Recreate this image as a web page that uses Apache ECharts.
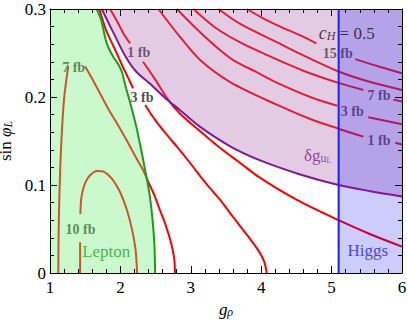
<!DOCTYPE html>
<html>
<head>
<meta charset="utf-8">
<script src="https://cdn.jsdelivr.net/npm/echarts@6/dist/echarts.min.js"></script>
<style>
  html, body { margin: 0; padding: 0; background: #fff; }
  #contour { width: 407px; height: 322px; }
</style>
</head>
<body>
<div id="contour"></div>
<script>
// points are [g_rho, sin phi_L]; 'a'/'b' pieces are split where a label sits on the line
const leptonEdge = [[1.663,0.300],[1.725,0.288],[1.806,0.261],[1.896,0.246],[1.971,0.237],[2.019,0.229],[2.081,0.210],[2.137,0.194],[2.209,0.172],[2.280,0.146],[2.351,0.117],[2.415,0.089],[2.457,0.060],[2.483,0.032],[2.493,0]]
const dguEdge = [[1.735,0.300],[1.882,0.276],[2.066,0.247],[2.223,0.229],[2.422,0.215],[2.635,0.199],[2.848,0.185],[3.133,0.166],[3.559,0.144],[3.986,0.128],[4.555,0.112],[5.099,0.100],[5.550,0.093],[6.0,0.087]]
const higgsX = 5.1

// upper right family
const c15a = [[3.797,0.300],[4.014,0.290],[4.270,0.280],[4.555,0.270],[4.782,0.261]]
const c15b = [[5.337,0.243],[5.692,0.234],[6.0,0.227]]
const c10 = [[3.393,0.300],[3.702,0.283],[4.228,0.262],[4.555,0.249],[5.099,0.229],[5.550,0.217],[6.0,0.208]]
const c7a = [[3.038,0.300],[3.346,0.279],[3.702,0.262],[4.157,0.245],[4.626,0.229],[5.099,0.216],[5.450,0.208]]
const c7b = [[5.877,0.197],[6.0,0.195]]
const c3a = [[2.801,0.300],[3.062,0.279],[3.346,0.258],[3.602,0.242],[3.915,0.229],[4.228,0.216],[4.697,0.200],[5.081,0.190]]
const c3b = [[5.521,0.177],[6.0,0.169]]
const c1a = [[2.540,0.300],[2.820,0.271],[3.133,0.242],[3.559,0.217],[4.228,0.191],[4.697,0.175],[5.099,0.164],[5.450,0.155]]
const c1b = [[5.905,0.148],[6.0,0.146]]

// left family
const l3a = [[1.701,0.300],[1.796,0.276],[1.900,0.258],[1.974,0.245],[2.042,0.233],[2.109,0.222],[2.180,0.210]]
const l3b = [[2.351,0.191],[2.493,0.174],[2.649,0.158],[2.820,0.142],[2.991,0.125],[3.204,0.103],[3.417,0.083],[3.616,0.062],[3.801,0.043],[3.957,0.026],[4.043,0.013],[4.078,0]]
const l1a = [[1.853,0.300],[1.953,0.286],[2.052,0.271],[2.137,0.261]]
const l1b = [[2.322,0.240],[2.493,0.220],[2.678,0.197],[2.848,0.181],[3.133,0.161],[3.417,0.142],[3.702,0.125],[3.986,0.108],[4.508,0.083],[5.099,0.060],[5.550,0.044],[6.0,0.030]]
const o7a = [[1.118,0],[1.122,0.040],[1.132,0.083],[1.156,0.140],[1.199,0.197],[1.260,0.235]]
const o7b = [[1.498,0.235],[1.597,0.221],[1.711,0.204],[1.839,0.185],[1.967,0.168],[2.095,0.150],[2.223,0.131],[2.322,0.117],[2.393,0.104],[2.479,0.089],[2.564,0.071],[2.649,0.053],[2.720,0.034],[2.763,0.017],[2.777,0]]
const o10a = [[1.427,0],[1.427,0.035]]
const o10b = [[1.431,0.067],[1.448,0.087],[1.498,0.102],[1.569,0.111],[1.668,0.116],[1.768,0.115],[1.882,0.107],[1.995,0.092],[2.095,0.071],[2.166,0.049],[2.216,0.026],[2.237,0]]

// contour labels
const fbText = ['7 fb', '10 fb', '1 fb', '3 fb', '15 fb', '7 fb', '3 fb', '1 fb']
const fbX = [1.166, 1.213, 2.09, 2.137, 4.868, 5.503, 5.123, 5.503]
const fbY = [0.234, 0.050, 0.251, 0.200, 0.250, 0.202, 0.184, 0.151]

// region labels
const regionText = ['Lepton', 'Higgs', '{m|δg}{s|u}{ss|L}', '{i|c}{si|H}{m| = 0.5}']
const regionX = [1.45, 5.218, 4.6, 4.81]
const regionY = [0.024, 0.026, 0.134, 0.273]
const regionColor = ['#1fa51f', '#2020dd', '#7a1a8c', '#111']

const serif = '"Liberation Serif", "DejaVu Serif", serif'

const chart = echarts.init(document.getElementById('contour'), null, { renderer: 'svg' })

function redLine(pts) {
  return {
    type: 'line',
    data: pts,
    smooth: 0.3,
    symbol: 'none',
    z: 2,
    silent: true,
    lineStyle: { color: '#ff0000', width: 2 }
  }
}

function axisBase(min, max, interval) {
  return {
    type: 'value',
    min: min,
    max: max,
    interval: interval,
    z: 10,
    axisLine: { show: true, onZero: false, lineStyle: { color: '#000', width: 1 } },
    axisTick: { show: true, inside: true, length: 7, lineStyle: { color: '#000' } },
    minorTick: { show: true, splitNumber: 5, length: 4, lineStyle: { color: '#000' } },
    splitLine: { show: false },
    minorSplitLine: { show: false }
  }
}

const redParts = [c15a, c15b, c10, c7a, c7b, c3a, c3b, c1a, c1b, l3a, l3b, l1a, l1b, o7a, o7b, o10a, o10b]

const series = redParts.map(redLine)

// labels under the shaded regions
series.push({
  type: 'scatter',
  z: 2,
  silent: true,
  symbolSize: 1,
  itemStyle: { color: 'rgba(0,0,0,0)' },
  data: fbText.map((t, i) => ({ value: [fbX[i], fbY[i]], label: { formatter: t } })),
  label: {
    show: true,
    position: 'right',
    distance: 0,
    fontFamily: serif,
    fontWeight: 'bold',
    fontSize: 14,
    color: '#1e1e1e'
  }
})

// shaded regions, drawn over the contours so they tint them
series.push({
  type: 'line',
  z: 3,
  silent: true,
  symbol: 'none',
  smooth: 0.3,
  data: [[1, 0.3]].concat(leptonEdge),
  lineStyle: { width: 0 },
  areaStyle: { color: 'rgba(110,240,120,0.37)', origin: 'start', opacity: 1 }
})
series.push({
  type: 'line',
  z: 3,
  silent: true,
  symbol: 'none',
  smooth: 0.3,
  data: dguEdge,
  lineStyle: { width: 0 },
  areaStyle: { color: 'rgba(170,94,170,0.32)', origin: 'end', opacity: 1 }
})
series.push({
  type: 'line',
  z: 3,
  silent: true,
  symbol: 'none',
  data: [[higgsX, 0.3], [6, 0.3]],
  lineStyle: { width: 0 },
  areaStyle: { color: 'rgba(0,0,255,0.2)', origin: 'start', opacity: 1 }
})

// region edges
series.push({
  type: 'line', z: 4, silent: true, symbol: 'none', smooth: 0.3,
  data: leptonEdge,
  lineStyle: { color: '#1a9e1a', width: 2 }
})
series.push({
  type: 'line', z: 4, silent: true, symbol: 'none', smooth: 0.3,
  data: dguEdge,
  lineStyle: { color: '#80189a', width: 2 }
})
series.push({
  type: 'line', z: 4, silent: true, symbol: 'none',
  data: [[higgsX, 0], [higgsX, 0.3]],
  lineStyle: { color: '#1f1fee', width: 2 }
})

// region names
series.push({
  type: 'scatter',
  z: 5,
  silent: true,
  symbolSize: 1,
  itemStyle: { color: 'rgba(0,0,0,0)' },
  data: regionText.map((t, i) => ({
    value: [regionX[i], regionY[i]],
    label: { formatter: t, color: regionColor[i] }
  })),
  label: {
    show: true,
    position: 'right',
    distance: 0,
    fontFamily: serif,
    fontSize: 17,
    rich: {
      m: { fontFamily: serif, fontSize: 17, lineHeight: 18, verticalAlign: 'bottom' },
      i: { fontFamily: serif, fontSize: 18, fontStyle: 'italic', lineHeight: 18, verticalAlign: 'bottom' },
      si: { fontFamily: serif, fontSize: 12, fontStyle: 'italic', lineHeight: 8, verticalAlign: 'bottom' },
      s: { fontFamily: serif, fontSize: 12, lineHeight: 8, verticalAlign: 'bottom' },
      ss: { fontFamily: serif, fontSize: 8, lineHeight: 2, verticalAlign: 'bottom' }
    }
  }
})

const xBottom = axisBase(1, 6, 1)
xBottom.position = 'bottom'
xBottom.axisLabel = { color: '#000', fontFamily: serif, fontSize: 17, margin: 6 }
xBottom.name = '{i|g}{s|ρ}'
xBottom.nameLocation = 'middle'
xBottom.nameGap = 26
xBottom.nameTextStyle = {
  color: '#000',
  rich: {
    i: { fontFamily: serif, fontSize: 17, fontStyle: 'italic', lineHeight: 18, verticalAlign: 'bottom' },
    s: { fontFamily: serif, fontSize: 12, fontStyle: 'italic', lineHeight: 8, verticalAlign: 'bottom' }
  }
}
const xTop = axisBase(1, 6, 1)
xTop.position = 'top'
xTop.axisLabel = { show: false }

const yLeft = axisBase(0, 0.3, 0.1)
yLeft.position = 'left'
yLeft.axisLabel = {
  color: '#000', fontFamily: serif, fontSize: 17, margin: 4,
  formatter: (v) => (v === 0 ? '0' : v.toFixed(1))
}
yLeft.name = '{m|sin }{i|φ}{s|L}'
yLeft.nameLocation = 'middle'
yLeft.nameGap = 23
yLeft.nameTextStyle = {
  color: '#000',
  rich: {
    m: { fontFamily: serif, fontSize: 17, lineHeight: 14, verticalAlign: 'bottom' },
    i: { fontFamily: serif, fontSize: 17, fontStyle: 'italic', lineHeight: 14, verticalAlign: 'bottom' },
    s: { fontFamily: serif, fontSize: 12, fontStyle: 'italic', lineHeight: 6, verticalAlign: 'bottom' }
  }
}
const yRight = axisBase(0, 0.3, 0.1)
yRight.position = 'right'
yRight.axisLabel = { show: false }

chart.setOption({
  animation: false,
  backgroundColor: '#fff',
  grid: { left: 50, right: 5, top: 9, bottom: 49, outerBoundsMode: 'none' },
  xAxis: [xBottom, xTop],
  yAxis: [yLeft, yRight],
  series: series
})
</script>
</body>
</html>
